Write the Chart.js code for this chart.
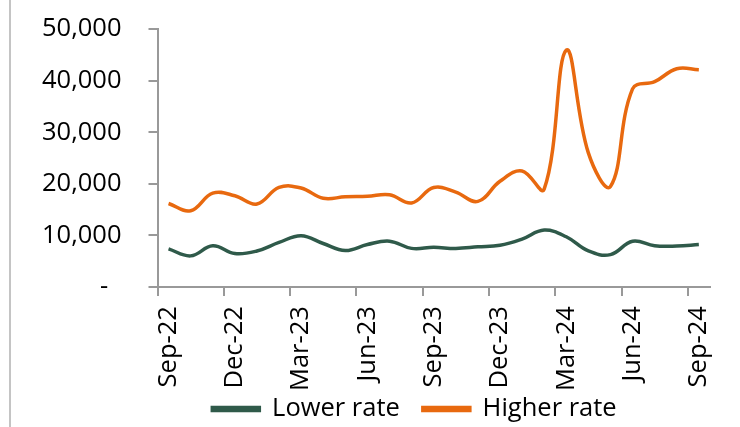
<!DOCTYPE html>
<html>
<head>
<meta charset="utf-8">
<script src="https://cdn.jsdelivr.net/npm/chart.js@4.4.1/dist/chart.umd.min.js"></script>
<style>
  html, body { margin: 0; padding: 0; background: #fff; }
  #wrap { position: relative; width: 740px; height: 427px; }
  #frame { position: absolute; left: 9px; top: 0; width: 2px; height: 427px; background: #c4c4c4; }
  canvas { display: block; }
</style>
</head>
<body>
<div id="wrap">
  <div id="frame"></div>
  <canvas id="canvas" width="740" height="427"></canvas>
</div>
<script>
var months = ['Sep-22','Oct-22','Nov-22','Dec-22','Jan-23','Feb-23','Mar-23','Apr-23','May-23','Jun-23',
              'Jul-23','Aug-23','Sep-23','Oct-23','Nov-23','Dec-23','Jan-24','Feb-24','Mar-24','Apr-24',
              'May-24','Jun-24','Jul-24','Aug-24','Sep-24'];
var lowerRate = [7400, 6050, 8000, 6500, 7000, 8650, 9950, 8450, 7100, 8250,
                 8900, 7500, 7700, 7500, 7800, 8100, 9300, 11050, 9750, 7000,
                 6300, 8900, 8000, 7950, 8250];
var higherRate = [16200, 14800, 18200, 17700, 16100, 19300, 19200, 17200, 17500, 17600,
                  17900, 16300, 19300, 18400, 16600, 20500, 22500, 19000, 45900, 26000,
                  19500, 38400, 39800, 42300, 42100];
var yTicks = [0, 10000, 20000, 30000, 40000, 50000];

var FONT = '"Open Sans", sans-serif';
var FONT_SIZE = 25.5;
var GREEN = '#2f5a4a';
var ORANGE = '#e8690f';
var AXIS = '#999999';

// the legend in the original overlaps the label band and sits right of centre,
// so take it out of the stacking and place it after layout
var legendPlace = {
  id: 'legendPlace',
  beforeLayout: function (chart) {
    var lg = chart.legend;
    if (!lg || lg._wrapped) return;
    var fit = lg.fit;
    lg.fit = function () {
      fit.call(this);
      this._fullH = this.height;
      this.height = 0;
    };
    lg._wrapped = true;
  },
  afterLayout: function (chart) {
    var lg = chart.legend;
    if (!lg) return;
    var pad = lg.options.labels.padding;
    lg.top = 409 - pad - FONT_SIZE / 2;
    lg.bottom = lg.top + lg._fullH;
    lg.height = lg._fullH;
    lg.left += 51;
    lg.right += 51;
  }
};

new Chart(document.getElementById('canvas').getContext('2d'), {
  type: 'line',
  data: {
    labels: months,
    datasets: [
      { label: 'Lower rate', data: lowerRate, borderColor: GREEN, backgroundColor: GREEN,
        borderWidth: 3.5, pointRadius: 0, tension: 0.4 },
      { label: 'Higher rate', data: higherRate, borderColor: ORANGE, backgroundColor: ORANGE,
        borderWidth: 3.5, pointRadius: 0, tension: 0.4 }
    ]
  },
  plugins: [legendPlace],
  options: {
    responsive: false,
    animation: false,
    layout: { padding: { left: 15, right: 28, top: 29, bottom: 26 } },
    plugins: {
      tooltip: { enabled: false },
      legend: {
        position: 'bottom',
        labels: {
          color: '#000',
          font: { family: FONT, size: FONT_SIZE },
          boxWidth: 47,
          boxHeight: 3,
          padding: 23
        }
      }
    },
    scales: {
      x: {
        offset: true,
        grid: {
          offset: true,
          drawOnChartArea: false,
          drawTicks: true,
          tickLength: 9,
          lineWidth: 2,
          color: function (ctx) { return ctx.index % 3 === 0 ? AXIS : 'rgba(0,0,0,0)'; }
        },
        border: { color: AXIS, width: 2 },
        ticks: {
          autoSkip: false,
          maxRotation: 90,
          minRotation: 90,
          padding: 10,
          color: '#000',
          font: { family: FONT, size: FONT_SIZE },
          callback: function (v, i) { return i % 3 === 0 ? months[i] : ''; }
        }
      },
      y: {
        min: 0,
        max: 50000,
        // the wide label padding should not push the plot down
        afterFit: function (s) { s.paddingTop = 0; s.paddingBottom = 0; },
        afterBuildTicks: function (axis) { axis.ticks = yTicks.map(function (v) { return { value: v }; }); },
        grid: { drawOnChartArea: false, drawTicks: true, tickLength: 9, lineWidth: 2, color: AXIS },
        border: { color: AXIS, width: 2 },
        ticks: {
          padding: 27,
          color: '#000',
          font: { family: FONT, size: FONT_SIZE },
          callback: function (v) { return v === 0 ? '-  ' : v.toLocaleString('en-US'); }
        }
      }
    }
  }
});
</script>
</body>
</html>
